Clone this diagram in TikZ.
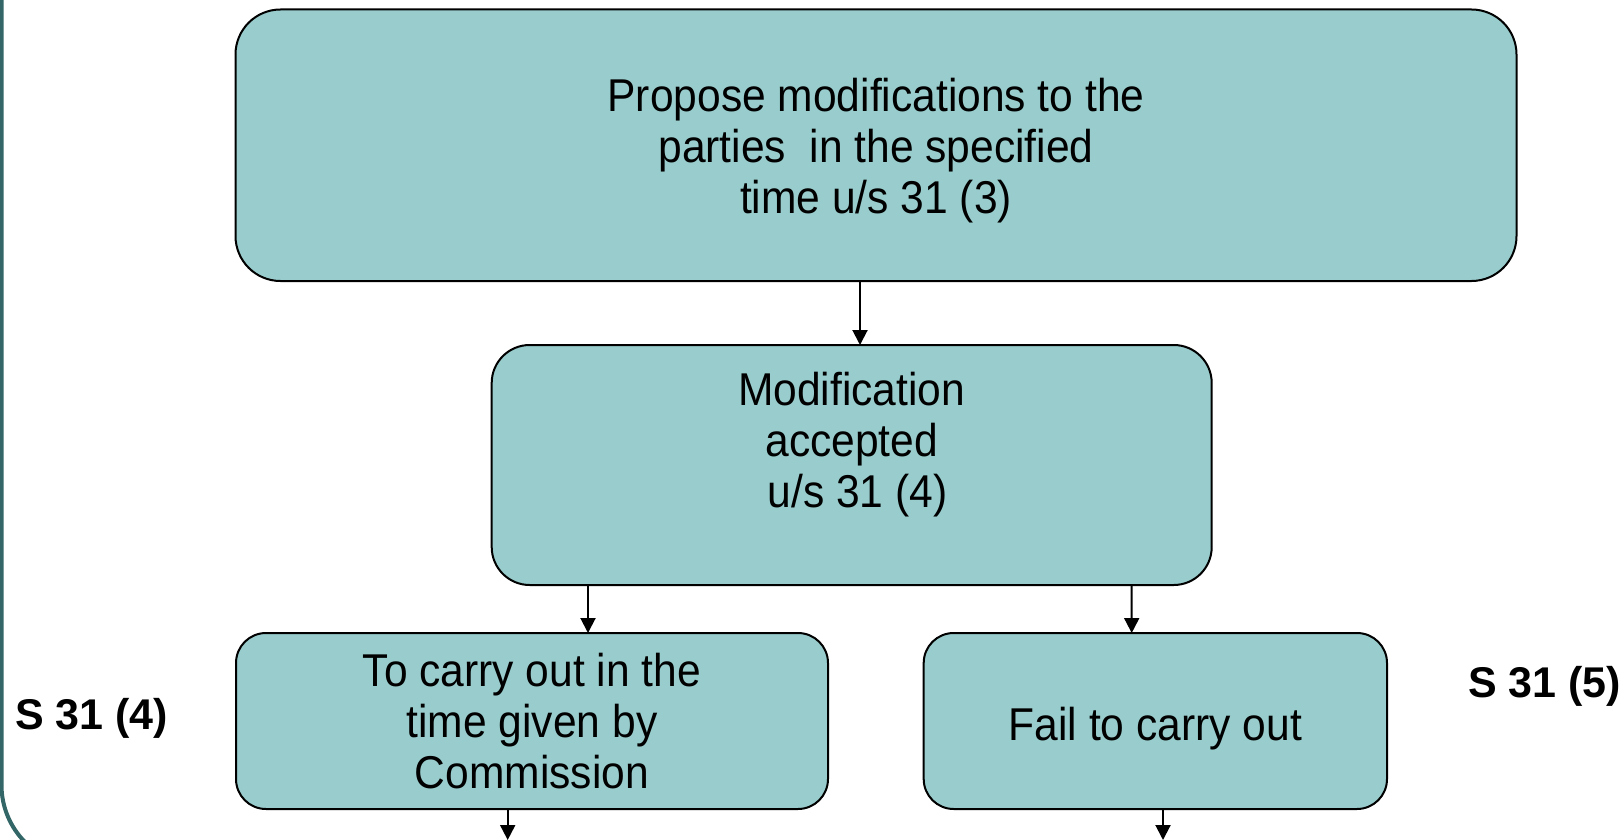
\documentclass[tikz,border=0pt]{standalone}
\usepackage{fontspec}
\setmainfont{Liberation Sans}
\newfontfamily\bodyfont[FakeStretch=0.925]{Liberation Sans}
\usetikzlibrary{arrows.meta}
\definecolor{boxfill}{RGB}{153,204,204}
\definecolor{frameteal}{RGB}{51,102,102}
% set a line lower without changing its reported size
\newcommand{\dropline}[2]{\raisebox{-#1}[\height][\depth]{#2}}
\begin{document}
\begin{tikzpicture}[x=1pt,y=-1pt,
  box/.style={draw=black, line width=2pt, fill=boxfill, outer sep=0pt, inner sep=0pt,
    align=center, font=\bodyfont\fontsize{46}{50.7}\selectfont},
  flow/.style={draw=black, line width=2pt, -{Triangle[length=15pt,width=15pt]}},
  sidelabel/.style={font=\bfseries\fontsize{43}{48}\selectfont, anchor=base west, inner sep=0pt}]
\useasboundingbox (0,0) rectangle (1622,840);
\fill[white] (0,0) rectangle (1622,840);
% slide frame along the left edge
\begin{scope}
  \clip (0,0) rectangle (1622,840);
  \draw[frameteal, line width=4pt, rounded corners=81pt] (1.5,-40) -- (1.5,866) -- (400,866);
\end{scope}

% process boxes
\node[box, minimum width=1281pt, minimum height=271.5pt, rounded corners=45pt] (propose) at (876,145.25)
  {\dropline{5.2pt}{Propose modifications to the}\\\dropline{5.2pt}{parties\ \ in the specified}\\\dropline{5.2pt}{time u/s 31 (3)}};
\node[box, minimum width=720pt, minimum height=240pt, rounded corners=38pt] (accepted) at (851.7,465)
  {Modification\\accepted\\\ u/s 31 (4)\\\mbox{}};
\node[box, minimum width=592pt, minimum height=176pt, rounded corners=30pt] (carry) at (532,721)
  {To carry out in the\\time given by\\Commission};
\node[box, minimum width=463.3pt, minimum height=176pt, rounded corners=30pt] (fail) at (1155.35,721)
  {\dropline{7.2pt}{Fail to carry out}};

% section labels
\node[sidelabel] (s4) at (15,729) {S 31 (4)};
\node[sidelabel] (s5) at (1468,697.5) {S 31 (5)};

% continuation ends below the lower boxes
\coordinate (carryout) at (507.7,840);
\coordinate (failout) at (1163,840);

% connectors
\draw[flow] ([xshift=-16pt]propose.south) -- ([xshift=8.3pt]accepted.north);
\draw[flow] ([xshift=-263.7pt]accepted.south) -- ([xshift=56pt]carry.north);
\draw[flow] ([xshift=280pt]accepted.south) -- ([xshift=-23.65pt]fail.north);
\draw[flow] ([xshift=-24.3pt]carry.south) -- (carryout);
\draw[flow] ([xshift=7.65pt]fail.south) -- (failout);
\end{tikzpicture}
\end{document}
